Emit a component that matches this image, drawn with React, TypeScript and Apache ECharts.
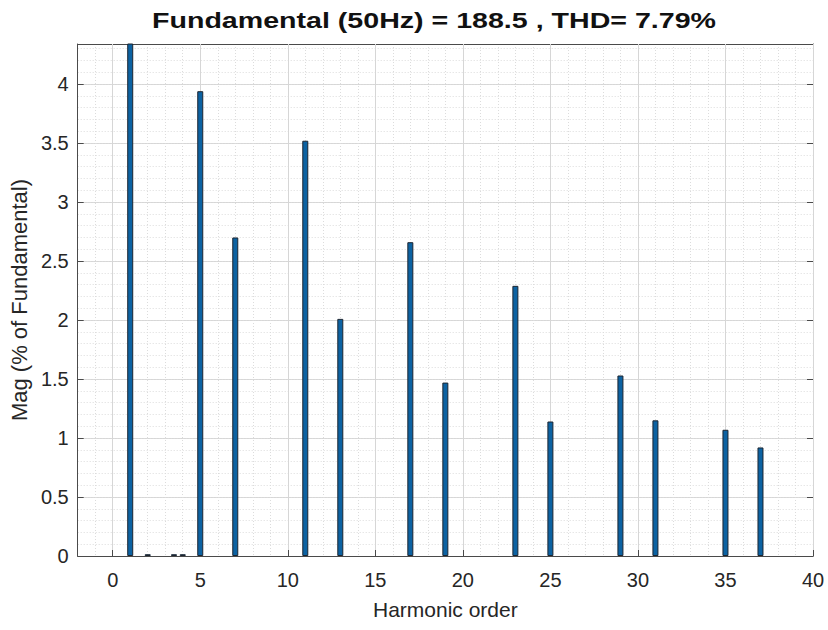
import React, { useEffect, useRef } from "react";
import * as echarts from "echarts";

const titleText = "Fundamental (50Hz) = 188.5 , THD= 7.79%";
const xAxisName = "Harmonic order";
const yAxisName = "Mag (% of Fundamental)";

const harmonicOrders = [1, 2, 3.5, 4, 5, 7, 11, 13, 17, 19, 23, 25, 29, 31, 35, 37];
const magnitudes = [100, 0.015, 0.015, 0.015, 3.94, 2.7, 3.52, 2.01, 2.66, 1.47, 2.29, 1.14, 1.53, 1.15, 1.07, 0.92];

const xTicks = [0, 5, 10, 15, 20, 25, 30, 35, 40];
const yTicks = [0, 0.5, 1, 1.5, 2, 2.5, 3, 3.5, 4];

const X_MIN = -2;
const X_MAX = 40;
const Y_MIN = 0;
const Y_MAX = 4.34;

const FONT = "'Liberation Sans', Arial, sans-serif";
const BOX = "#4a4a4a";
const MAJOR = "#d6d6d6";
const MINOR = "#dcdcdc";
const TXT = "#262626";

export default function App() {
  const ref = useRef<HTMLDivElement>(null);
  useEffect(() => {
    if (!ref.current) return;
    const chart = echarts.init(ref.current, null, { renderer: "svg" });
    const data = harmonicOrders.map((h, i) => [h, magnitudes[i]]);
    chart.setOption({
      animation: false,
      backgroundColor: "#ffffff",
      textStyle: { fontFamily: FONT },
      grid: { left: 76, right: 15, top: 44, bottom: 74, containLabel: false },
      graphic: [
        {
          type: "text",
          x: 434,
          y: 20,
          scaleX: 1.3,
          style: {
            text: titleText,
            font: `bold 22px ${FONT}`,
            fill: "#111111",
            textAlign: "center",
            textVerticalAlign: "middle",
          },
        },
      ],
      xAxis: [
        {
          type: "value",
          min: X_MIN,
          max: X_MAX,
          position: "bottom",
          name: xAxisName,
          nameLocation: "middle",
          nameGap: 43,
          nameTextStyle: { fontSize: 21, color: TXT, fontFamily: FONT },
          axisLine: { show: true, onZero: false, lineStyle: { color: BOX, width: 1 } },
          axisTick: { show: true, inside: true, length: 6, customValues: xTicks, lineStyle: { color: BOX } },
          axisLabel: { show: true, customValues: xTicks, fontSize: 20, color: TXT, margin: 14, fontFamily: FONT },
          splitLine: { show: true, lineStyle: { color: MAJOR, width: 1 } },
          z: 3,
        },
        {
          type: "value",
          min: X_MIN,
          max: X_MAX,
          position: "top",
          axisLine: { show: true, onZero: false, lineStyle: { color: BOX, width: 1 } },
          axisTick: { show: true, inside: true, length: 6, customValues: xTicks, lineStyle: { color: BOX } },
          axisLabel: { show: false },
          splitLine: { show: false },
        },
        {
          type: "value",
          min: X_MIN,
          max: X_MAX,
          interval: 1,
          position: "top",
          axisLine: { show: false },
          axisTick: { show: false },
          axisLabel: { show: false },
          splitLine: { show: true, lineStyle: { color: MINOR, width: 1, type: [1, 2] } },
          z: 0,
        },
      ],
      yAxis: [
        {
          type: "value",
          min: Y_MIN,
          max: Y_MAX,
          interval: 0.5,
          position: "left",
          name: yAxisName,
          nameLocation: "middle",
          nameGap: 43,
          nameRotate: 90,
          nameTextStyle: { fontSize: 22, color: TXT, fontFamily: FONT },
          axisLine: { show: true, onZero: false, lineStyle: { color: BOX, width: 1 } },
          axisTick: { show: true, inside: true, length: 6, customValues: yTicks, lineStyle: { color: BOX } },
          axisLabel: { show: true, customValues: yTicks, fontSize: 20, color: TXT, margin: 9, fontFamily: FONT },
          splitLine: { show: true, lineStyle: { color: MAJOR, width: 1 } },
        },
        {
          type: "value",
          min: Y_MIN,
          max: Y_MAX,
          position: "right",
          axisLine: { show: true, onZero: false, lineStyle: { color: BOX, width: 1 } },
          axisTick: { show: true, inside: true, length: 6, customValues: yTicks, lineStyle: { color: BOX } },
          axisLabel: { show: false },
          splitLine: { show: false },
        },
        {
          type: "value",
          min: Y_MIN,
          max: Y_MAX,
          interval: 0.1,
          position: "left",
          axisLine: { show: false },
          axisTick: { show: false },
          axisLabel: { show: false },
          splitLine: { show: true, lineStyle: { color: MINOR, width: 1, type: [1, 2] } },
        },
      ],
      series: [
        {
          type: "bar",
          xAxisIndex: 0,
          yAxisIndex: 0,
          data,
          barWidth: 6,
          clip: true,
          itemStyle: { color: "#0c62a2", borderColor: "#1c2530", borderWidth: 1 },
          z: 5,
        },
      ],
    });
    return () => chart.dispose();
  }, []);
  return <div ref={ref} style={{ position: "fixed", left: 0, top: 0, width: 828, height: 630 }} />;
}
